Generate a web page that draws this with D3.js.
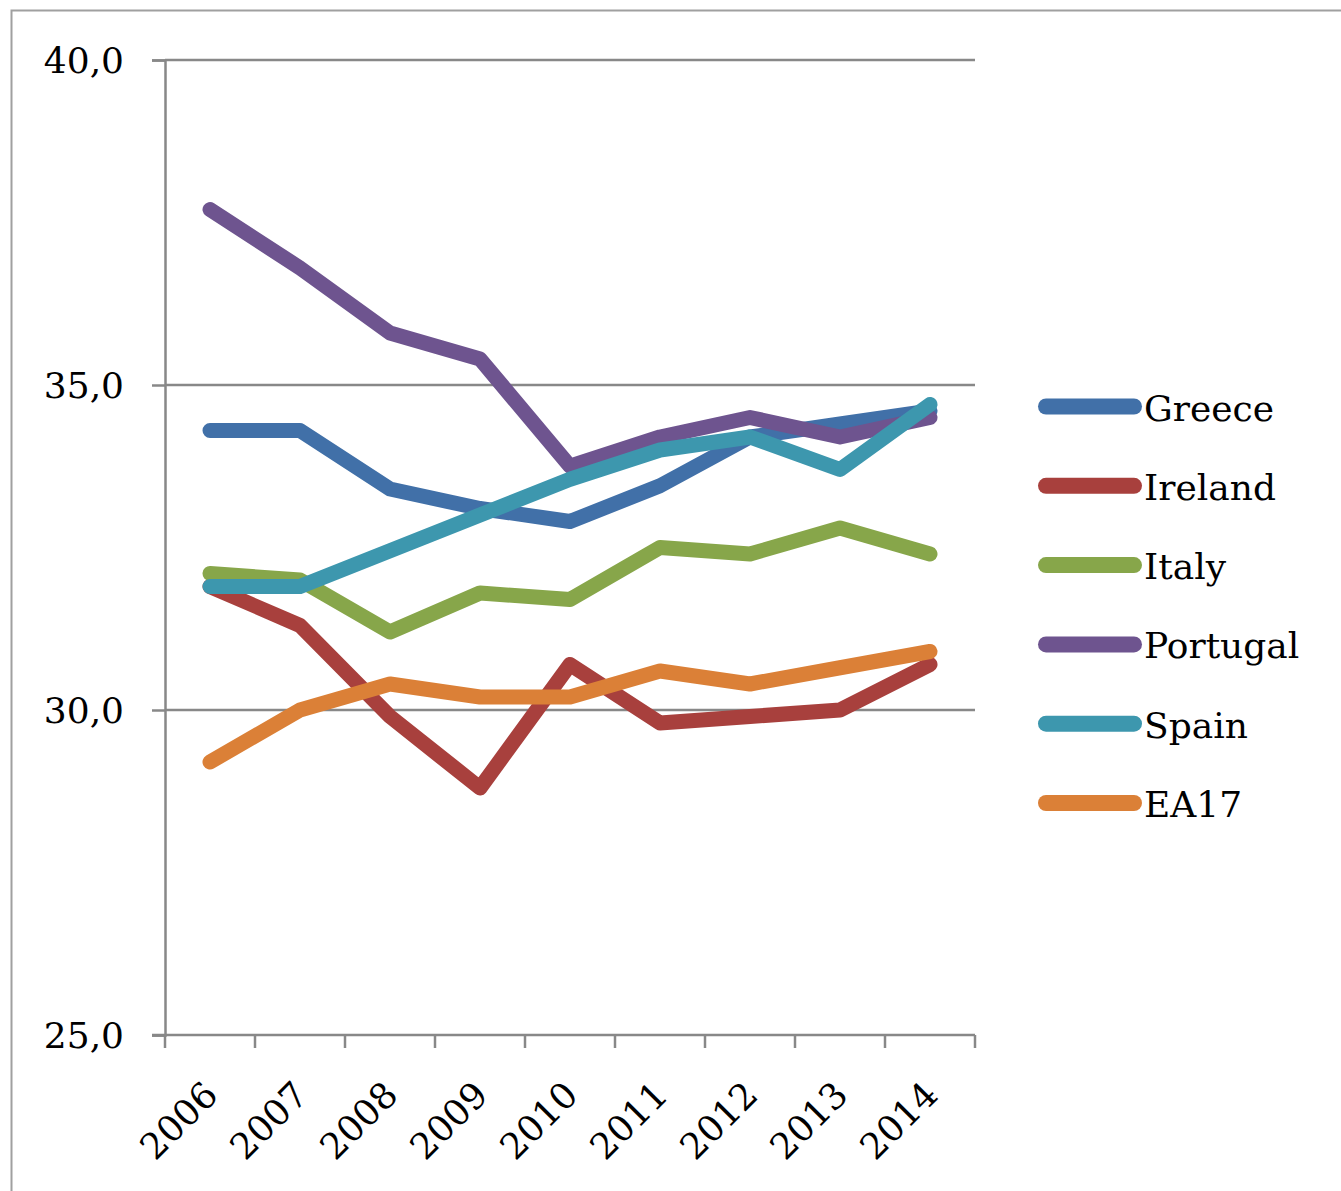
<!DOCTYPE html>
<html>
<head>
<meta charset="utf-8">
<script src="https://cdn.jsdelivr.net/npm/d3@7"></script>
<style>
  html, body { margin: 0; padding: 0; background: #fff; }
  svg { display: block; }
  text { font-family: "DejaVu Serif", serif; fill: #000; }
</style>
</head>
<body>
<svg id="chart" width="1341" height="1191"></svg>
<script>
const years = ["2006","2007","2008","2009","2010","2011","2012","2013","2014"];
const seriesNames = ["Greece","Ireland","Italy","Portugal","Spain","EA17"];
const greece   = [34.3, 34.3, 33.4, 33.1, 32.9, 33.45, 34.2, 34.4, 34.6];
const ireland  = [31.9, 31.3, 29.9, 28.8, 30.7, 29.8, 29.9, 30.0, 30.7];
const italy    = [32.1, 32.0, 31.2, 31.8, 31.7, 32.5, 32.4, 32.8, 32.4];
const portugal = [37.7, 36.8, 35.8, 35.4, 33.75, 34.2, 34.5, 34.2, 34.5];
const spain    = [31.9, 31.9, 32.45, 33.0, 33.55, 34.0, 34.2, 33.7, 34.7];
const ea17     = [29.2, 30.0, 30.4, 30.2, 30.2, 30.6, 30.4, 30.65, 30.9];
const yTicks   = [25, 30, 35, 40];
const colors   = ["#4170a8", "#a8403d", "#87a64a", "#6e548f", "#3d97ae", "#db8037"];

(function () {
const seriesValues = [greece, ireland, italy, portugal, spain, ea17];
const series = seriesNames.map((name, i) => ({ name, values: seriesValues[i], color: colors[i] }));

const svg = d3.select("#chart");
const mLeft = 165, mRight = 975, mTop = 60, mBottom = 1035;
const axisColor = "#888888";

// outer frame
svg.append("path")
  .attr("d", "M11.5,1200 V10.5 H1350")
  .attr("fill", "none").attr("stroke", "#a0a0a0").attr("stroke-width", 2);

const x = d3.scaleBand().domain(years).range([mLeft, mRight]).paddingInner(0).paddingOuter(0);
const y = d3.scaleLinear().domain([25, 40]).range([mBottom, mTop]);
const cx = d => x(d) + x.bandwidth() / 2;

// gridlines
svg.append("g").selectAll("line").data(yTicks.filter(t => t > 25)).join("line")
  .attr("x1", mLeft).attr("x2", mRight)
  .attr("y1", d => y(d)).attr("y2", d => y(d))
  .attr("stroke", axisColor).attr("stroke-width", 2.5);

// y axis
const yAxis = svg.append("g").attr("transform", `translate(${mLeft},0)`)
  .call(d3.axisLeft(y).tickValues(yTicks).tickSize(13).tickPadding(28)
    .tickFormat(d => d3.format(".1f")(d).replace(".", ",")));
yAxis.select(".domain").attr("stroke", axisColor).attr("stroke-width", 2.5);
yAxis.selectAll(".tick line").attr("stroke", axisColor).attr("stroke-width", 2.5);
yAxis.selectAll(".tick text")
  .style("font-family", '"DejaVu Serif", serif').style("font-size", "36px")
  .attr("fill", "#000").attr("dy", "0.36em");

// x axis line and ticks at band boundaries
const xg = svg.append("g");
xg.append("line").attr("x1", mLeft - 13).attr("x2", mRight).attr("y1", mBottom).attr("y2", mBottom)
  .attr("stroke", axisColor).attr("stroke-width", 2.5);
const boundaries = years.map(d => x(d)).concat([x(years[years.length - 1]) + x.bandwidth()]);
xg.selectAll("line.tk").data(boundaries).join("line").attr("class", "tk")
  .attr("x1", d => d).attr("x2", d => d).attr("y1", mBottom).attr("y2", mBottom + 13)
  .attr("stroke", axisColor).attr("stroke-width", 2.5);
xg.selectAll("text").data(years).join("text")
  .attr("transform", d => `translate(${cx(d) + 10},${mBottom + 62}) rotate(-45)`)
  .attr("text-anchor", "end")
  .style("font-size", "36px")
  .text(d => d);

// lines
const line = d3.line().x((d, i) => cx(years[i])).y(d => y(d));
svg.append("g").selectAll("path").data(series).join("path")
  .attr("d", s => line(s.values))
  .attr("fill", "none").attr("stroke", s => s.color)
  .attr("stroke-width", 15).attr("stroke-linecap", "round").attr("stroke-linejoin", "round");

// legend
const lg = svg.append("g");
const legY = i => 406.5 + i * 79.3;
lg.selectAll("line").data(series).join("line")
  .attr("x1", 1046).attr("x2", 1134)
  .attr("y1", (d, i) => legY(i)).attr("y2", (d, i) => legY(i))
  .attr("stroke", d => d.color).attr("stroke-width", 16).attr("stroke-linecap", "round");
lg.selectAll("text").data(series).join("text")
  .attr("x", 1144).attr("y", (d, i) => legY(i) + 14)
  .style("font-size", "36px")
  .text(d => d.name);
})();
</script>
</body>
</html>
